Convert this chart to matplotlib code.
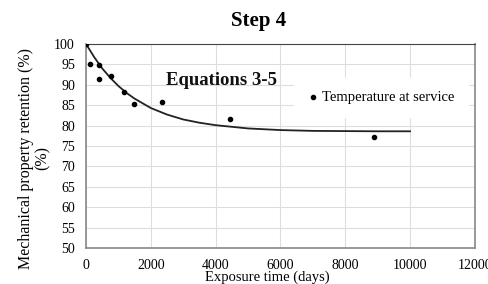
import matplotlib.pyplot as plt

plt.rcParams['font.family'] = ['Liberation Serif', 'DejaVu Serif']

# measured points (temperature at service)
days = [0, 120, 400, 410, 770, 1180, 1480, 2330, 4450, 8890]
retention = [100, 95.1, 94.9, 91.5, 92.2, 88.3, 85.4, 85.9, 81.6, 77.3]

# model curve
curve_days = [0, 125, 250, 375, 500, 750, 1000, 1250, 1500, 2000, 2500,
              3000, 3500, 4000, 5000, 6000, 7000, 8000, 9000, 10000]
curve_ret = [100, 98.4, 96.8, 95.4, 94.0, 91.7, 89.7, 88.0, 86.6, 84.3, 82.7,
             81.5, 80.7, 80.1, 79.3, 78.9, 78.7, 78.65, 78.6, 78.6]

fig = plt.figure(figsize=(4.89, 2.84), dpi=100)
ax = fig.add_axes([0.176, 0.127, 0.795, 0.718])

ax.plot(curve_days, curve_ret, color='#222222', lw=1.3, zorder=3)
ax.scatter(days, retention, s=9, color='black', zorder=4,
           label='Temperature at service')

ax.set_xlim(0, 12000)
ax.set_ylim(50, 100)
ax.set_xticks(range(0, 12001, 2000))
ax.set_yticks(range(50, 101, 5))
ax.grid(True, color='#dddddd', lw=0.8)
ax.set_axisbelow(True)
ax.tick_params(length=0, labelsize=10, pad=8)
for side in ['left', 'bottom', 'right']:
    ax.spines[side].set_color('#888888')
    ax.spines[side].set_linewidth(1.2)
ax.spines['top'].set_color('#444444')

ax.set_xlabel('Exposure time (days)', fontsize=10.5)
ax.xaxis.set_label_coords(0.465, -0.112)
ax.set_ylabel('Mechanical property retention (%)\n(%)', fontsize=11.5,
              linespacing=1.0)
ax.yaxis.set_label_coords(-0.092, 0.44)

ax.text(0.205, 0.80, 'Equations 3-5', transform=ax.transAxes,
        fontsize=13.5, fontweight='bold', color='#111111')

leg = ax.legend(loc='upper right', bbox_to_anchor=(1.0, 0.87),
                frameon=True, fontsize=10.5, handletextpad=0.2,
                handlelength=0.8, borderpad=0.9)
leg.get_frame().set_edgecolor('white')
leg.get_frame().set_facecolor('white')
leg.get_frame().set_alpha(1)

fig.text(0.528, 0.925, 'Step 4', ha='center', va='center', fontsize=15,
         fontweight='bold')

fig.savefig('out.png', dpi=100)
